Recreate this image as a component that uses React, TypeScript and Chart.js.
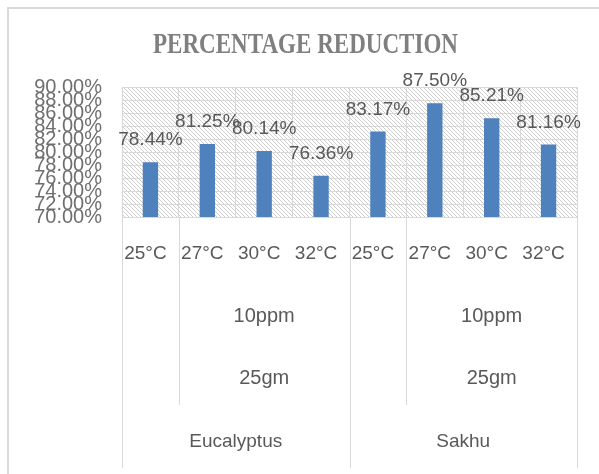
import React, { useEffect, useRef } from 'react';
import { Chart, registerables } from 'chart.js';

Chart.register(...registerables);

// ---- data ----
const title = 'PERCENTAGE REDUCTION';
const categories = ['25°C', '27°C', '30°C', '32°C', '25°C', '27°C', '30°C', '32°C'];
const values = [78.44, 81.25, 80.14, 76.36, 83.17, 87.5, 85.21, 81.16];
const species = ['Eucalyptus', 'Sakhu'];
const speciesSpan = [[0, 3], [4, 7]];
const doseLabels = ['10ppm', '10ppm'];
const massLabels = ['25gm', '25gm'];
const doseSpan = [[1, 3], [5, 7]];
const yMin = 70;
const yMax = 90;
const yStep = 2;

// ---- style ----
const SANS = '"Liberation Sans", Arial, sans-serif';
const SERIF = '"Liberation Serif", "Times New Roman", serif';
const GRID = '#d9d9d9';
const TEXT = '#595959';
const BAR = '#4f81bd';

function makePattern(ctx: CanvasRenderingContext2D) {
  const c = document.createElement('canvas');
  c.width = 4;
  c.height = 4;
  const p = c.getContext('2d')!;
  p.fillStyle = '#ffffff';
  p.fillRect(0, 0, 4, 4);
  p.fillStyle = '#cfcfcf';
  for (let i = 0; i < 4; i++) p.fillRect(i, i, 1, 1);
  return ctx.createPattern(c, 'repeat');
}

const decor = {
  id: 'decor',
  beforeDraw(chart: any) {
    const { ctx, chartArea: a } = chart;
    ctx.save();
    ctx.fillStyle = '#ffffff';
    ctx.fillRect(0, 0, chart.width, chart.height);
    ctx.strokeStyle = GRID;
    ctx.lineWidth = 2;
    ctx.strokeRect(8, 8, chart.width + 50, chart.height + 50);
    const pat = makePattern(ctx);
    if (pat) {
      ctx.fillStyle = pat;
      ctx.fillRect(a.left, a.top, a.right - a.left, a.bottom - a.top);
    }
    ctx.restore();
  },
  afterDraw(chart: any) {
    const { ctx, chartArea: a } = chart;
    const x = chart.scales.x;
    const step = x.getPixelForValue(1) - x.getPixelForValue(0);
    const edge = (i: number) => x.getPixelForValue(i) - step / 2;
    const center = (s: number, e: number) => (edge(s) + edge(e + 1)) / 2;

    ctx.save();
    // title
    ctx.font = `bold 23px ${SERIF}`;
    const tw = ctx.measureText(title).width;
    ctx.translate(305.5, 53);
    ctx.scale(305 / tw, 1.25);
    ctx.textAlign = 'center';
    ctx.textBaseline = 'alphabetic';
    ctx.fillStyle = '#7f7f7f';
    ctx.fillText(title, 0, 0);
    ctx.restore();

    ctx.save();
    // divider lines of the multi-level category axis
    ctx.strokeStyle = GRID;
    ctx.lineWidth = 1;
    const line = (px: number, y2: number) => {
      const xx = Math.round(px) + 0.5;
      ctx.beginPath();
      ctx.moveTo(xx, a.bottom);
      ctx.lineTo(xx, y2);
      ctx.stroke();
    };
    speciesSpan.forEach(([s, e]) => {
      line(edge(s), 468);
      line(edge(e + 1), 468);
    });
    doseSpan.forEach(([s]) => line(edge(s), 405));

    // group labels
    ctx.fillStyle = TEXT;
    ctx.textAlign = 'center';
    ctx.textBaseline = 'middle';
    ctx.font = `20px ${SANS}`;
    doseSpan.forEach(([s, e], i) => {
      ctx.fillText(doseLabels[i], center(s, e), 316);
      ctx.fillText(massLabels[i], center(s, e), 378);
    });
    ctx.font = `19px ${SANS}`;
    speciesSpan.forEach(([s, e], i) => {
      ctx.fillText(species[i], center(s, e), 442);
    });

    // data labels
    const meta = chart.getDatasetMeta(0);
    ctx.font = `19px ${SANS}`;
    meta.data.forEach((bar: any, i: number) => {
      ctx.fillText(values[i].toFixed(2) + '%', bar.x, bar.y - 22);
    });
    ctx.restore();
  },
};

export default function App() {
  const ref = useRef<HTMLCanvasElement | null>(null);

  useEffect(() => {
    document.body.style.margin = '0';
    const canvas = ref.current;
    if (!canvas) return;
    const chart = new Chart(canvas, {
      type: 'bar',
      data: {
        labels: categories,
        datasets: [
          {
            data: values,
            backgroundColor: BAR,
            borderWidth: 0,
            barPercentage: 0.27,
            categoryPercentage: 1,
          },
        ],
      },
      options: {
        responsive: false,
        animation: false,
        devicePixelRatio: 1,
        layout: { padding: { top: 87, right: 22, left: 0, bottom: 0 } },
        plugins: {
          legend: { display: false },
          title: { display: false },
          tooltip: { enabled: false },
        },
        scales: {
          x: {
            grid: { color: GRID, drawTicks: false, offset: true },
            border: { display: false },
            ticks: {
              font: { family: SANS, size: 19 },
              color: TEXT,
              padding: 25,
              labelOffset: -5,
              autoSkip: false,
              maxRotation: 0,
            },
            afterFit: (s: any) => {
              s.height = 257;
            },
          },
          y: {
            min: yMin,
            max: yMax,
            grid: { color: GRID, drawTicks: false },
            border: { display: false },
            ticks: {
              stepSize: yStep,
              autoSkip: false,
              font: { family: SANS, size: 20 },
              color: '#6f6f6f',
              padding: 20,
              callback: (v: any) => Number(v).toFixed(2) + '%',
            },
            afterFit: (s: any) => {
              s.width = 122;
            },
          },
        },
      },
      plugins: [decor],
    } as any);
    return () => chart.destroy();
  }, []);

  return (
    <canvas
      ref={ref}
      width={599}
      height={474}
      style={{ display: 'block', width: 599, height: 474 }}
    />
  );
}
